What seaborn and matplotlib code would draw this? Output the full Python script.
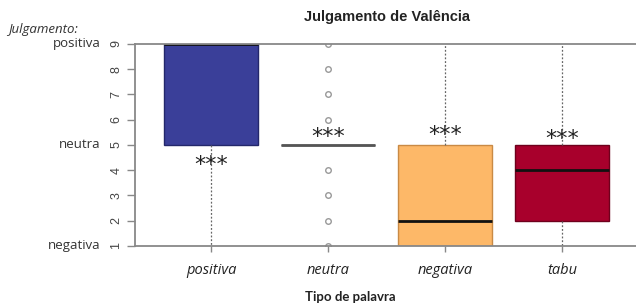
import numpy as np
import pandas as pd
import matplotlib
matplotlib.use("Agg")
import matplotlib.pyplot as plt
import seaborn as sns

# ratings per word type (reconstructed so the boxes match the picture)
positiva = [1, 5, 5, 9, 9, 9, 9, 9]
neutra = [1, 2, 3, 4] + [5] * 12 + [6, 7, 8, 9]
negativa = [1, 1, 1, 2, 2, 3, 5, 5, 9]
tabu = [1, 2, 2, 4, 4, 5, 5, 9]

categorias = ["positiva", "neutra", "negativa", "tabu"]
cores = ["#3a3f99", "#555555", "#fdb868", "#a8002c"]
bordas = ["#23276b", "#555555", "#c98a45", "#6e001c"]
estrelas_y = [4.2, 5.3, 5.4, 5.25]
yticks = list(range(1, 10))
julg_ticks = [9, 5, 1]
julg_labels = ["positiva", "neutra", "negativa"]

df = pd.DataFrame({
    "tipo": np.repeat(categorias, [len(positiva), len(neutra), len(negativa), len(tabu)]),
    "valor": positiva + neutra + negativa + tabu,
})

sns.set_style("white")
fig = plt.figure(figsize=(6.36, 3.07), dpi=100)
ax = fig.add_axes([0.2123, 0.1987, 0.7877, 0.658])

sns.boxplot(data=df, x="tipo", y="valor", hue="tipo", palette=cores, order=categorias,
            hue_order=categorias, width=0.8, dodge=False, legend=False, ax=ax,
            saturation=1, linecolor="#333333", linewidth=1,
            whiskerprops=dict(linestyle=(0, (1.5, 1.5)), color="#666666", linewidth=0.9),
            capprops=dict(visible=False),
            medianprops=dict(color="#111111", linewidth=2),
            flierprops=dict(marker="o", markerfacecolor="none", markeredgecolor="#999999",
                            markersize=4, markeredgewidth=1))

for patch, ec in zip(ax.patches, bordas):
    patch.set_edgecolor(ec)
# neutra median in dark grey
for ln in ax.lines:
    xd = ln.get_xdata()
    yd = ln.get_ydata()
    if len(xd) == 2 and np.allclose(yd, 5) and abs(np.mean(xd) - 1) < 0.01:
        ln.set_color("#555555")

for i, yy in enumerate(estrelas_y):
    ax.text(i, yy, "***", ha="center", va="center", fontsize=16, color="#222222",
            family="DejaVu Sans")

ax.set_ylim(1, 9)
ax.set_xlim(-0.65, 3.63)
ax.set_yticks(yticks)
ax.set_yticklabels([str(v) for v in yticks], rotation=90, va="center",
                   fontsize=9, color="#444444", family="Liberation Sans")
ax.set_xticks(range(len(categorias)))
ax.set_xticklabels(categorias, fontsize=10.5, style="italic", color="#222222",
                   family="Open Sans")
ax.tick_params(axis="y", length=6, width=1, color="#888888", pad=3, left=True)
ax.tick_params(axis="x", length=4, width=1, color="#888888", pad=8, bottom=True)
ax.set_xlabel("Tipo de palavra", fontsize=9.5, fontweight="bold", family="Lato",
              color="#222222")
ax.xaxis.set_label_coords(0.43, -0.225)
ax.set_ylabel("")

for s in ["left", "top", "bottom"]:
    ax.spines[s].set_color("#888888")
    ax.spines[s].set_linewidth(1.3)
ax.spines["right"].set_visible(False)

for yv, lab in zip(julg_ticks, julg_labels):
    ax.annotate(lab, xy=(0, yv), xycoords=("axes fraction", "data"),
                xytext=(-25, 0), textcoords="offset points", ha="right", va="center",
                fontsize=9.5, color="#333333", family="Open Sans")

fig.text(0.012, 0.905, "Julgamento:", style="italic", fontsize=9.5, color="#333333",
         family="Open Sans", ha="left", va="center")
fig.text(0.608, 0.945, "Julgamento de Valência", fontsize=10.5, fontweight="bold",
         family="Liberation Sans", color="#222222", ha="center", va="center")

fig.savefig("out.png", dpi=100)
